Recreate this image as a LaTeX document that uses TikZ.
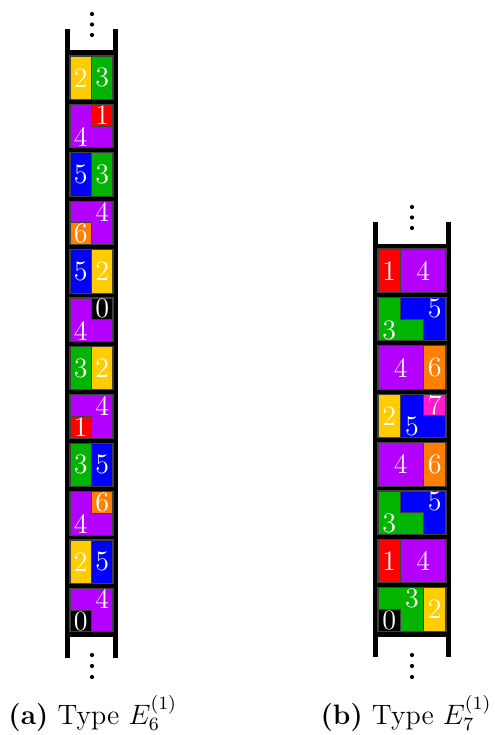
\documentclass[tikz,border=0pt]{standalone}
\usepackage{amsmath}
\usepackage{tikz}

\definecolor{pyellow}{HTML}{FFCC00}
\definecolor{pgreen}{HTML}{00B400}
\definecolor{pred}{HTML}{FF0000}
\definecolor{pviolet}{HTML}{B400FF}
\definecolor{pblue}{HTML}{0000FF}
\definecolor{porange}{HTML}{FF8000}
\definecolor{pmagenta}{HTML}{FF1CC8}
\definecolor{pblack}{HTML}{000000}

% left column: cell #1 from the top, two columns
\newcommand{\lpair}[5]{%
  \begin{scope}[shift={(70,{56+48.4*#1})}, xscale=21.5, yscale=21.75]
    \draw[piece=#2] (0,0) rectangle (1,2);
    \draw[piece=#4] (1,0) rectangle (2,2);
    \node[num] (a#1l) at (0.5,1) {#3};
    \node[num] (a#1r) at (1.5,1) {#5};
  \end{scope}}
\newcommand{\lside}[5]{%
  \begin{scope}[shift={(70,{56+48.4*#1})}, xscale=21.5, yscale=21.75]
    \draw[piece=#2] (0,0) -- (1,0) -- (1,1) -- (2,1) -- (2,2) -- (0,2) -- cycle;
    \draw[piece=#4] (1,0) rectangle (2,1);
    \node[num] (a#1l) at (0.5,1.5) {#3};
    \node[num] (a#1r) at (1.5,0.5) {#5};
  \end{scope}}
\newcommand{\ltop}[5]{%
  \begin{scope}[shift={(70,{56+48.4*#1})}, xscale=21.5, yscale=21.75]
    \draw[piece=#2] (0,0) -- (2,0) -- (2,2) -- (1,2) -- (1,1) -- (0,1) -- cycle;
    \draw[piece=#4] (0,1) rectangle (1,2);
    \node[num] (a#1r) at (1.5,0.5) {#3};
    \node[num] (a#1l) at (0.5,1.5) {#5};
  \end{scope}}

% right column: cell #1 from the top, three columns
\newcommand{\rpair}[6]{%
  \begin{scope}[shift={(378,{249+48.4*#1})}, xscale=22.67, yscale=21.75]
    \draw[piece=#3] (0,0) rectangle (#2,2);
    \draw[piece=#5] (#2,0) rectangle (3,2);
    \node[num] (b#1l) at ({#2/2},1) {#4};
    \node[num] (b#1r) at ({(#2+3)/2},1) {#6};
  \end{scope}}
\newcommand{\rstep}[1]{%
  \begin{scope}[shift={(378,{249+48.4*#1})}, xscale=22.67, yscale=21.75]
    \draw[piece=pgreen] (0,0) -- (1,0) -- (1,1) -- (2,1) -- (2,2) -- (0,2) -- cycle;
    \draw[piece=pblue] (1,0) -- (3,0) -- (3,2) -- (2,2) -- (2,1) -- (1,1) -- cycle;
    \node[num] (b#1l) at (0.5,1.5) {3};
    \node[num] (b#1r) at (2.5,0.5) {5};
  \end{scope}}
\newcommand{\rseven}[1]{%
  \begin{scope}[shift={(378,{249+48.4*#1})}, xscale=22.67, yscale=21.75]
    \draw[piece=pyellow] (0,0) rectangle (1,2);
    \draw[piece=pblue] (1,0) -- (2,0) -- (2,1) -- (3,1) -- (3,2) -- (1,2) -- cycle;
    \draw[piece=pmagenta] (2,0) rectangle (3,1);
    \node[num] (b#1l) at (0.5,1) {2};
    \node[num] (b#1m) at (1.5,1.5) {5};
    \node[num] (b#1r) at (2.5,0.5) {7};
  \end{scope}}
\newcommand{\rzero}[1]{%
  \begin{scope}[shift={(378,{249+48.4*#1})}, xscale=22.67, yscale=21.75]
    \draw[piece=pgreen] (0,0) -- (2,0) -- (2,2) -- (1,2) -- (1,1) -- (0,1) -- cycle;
    \draw[piece=pblack] (0,1) rectangle (1,2);
    \draw[piece=pyellow] (2,0) rectangle (3,2);
    \node[num] (b#1m) at (1.5,0.5) {3};
    \node[num] (b#1l) at (0.5,1.5) {0};
    \node[num] (b#1r) at (2.5,1) {2};
  \end{scope}}

\begin{document}
\begin{tikzpicture}[
  x=0.4274pt, y=-0.4274pt,
  piece/.style={fill=#1, draw=black!75, line width=0.45pt},
  num/.style={text=white, font=\large, inner sep=0pt},
  rail/.style={fill=black},
  vdot/.style={fill=black, circle, inner sep=0pt, minimum size=1.8pt},
  caption/.style={inner sep=0pt, font=\fontsize{12}{15}\selectfont}
]
\useasboundingbox (0,0) rectangle (494,735);

\fill[rail] (65,50) rectangle (118,637);
\fill[rail] (65,29) rectangle (70,658);
\fill[rail] (113,29) rectangle (118,658);
\fill[rail] (373,244) rectangle (451,637);
\fill[rail] (373,222) rectangle (378,657);
\fill[rail] (446,222) rectangle (451,657);

\lpair{0}{pyellow}{2}{pgreen}{3}
\lside{1}{pviolet}{4}{pred}{1}
\lpair{2}{pblue}{5}{pgreen}{3}
\ltop{3}{pviolet}{4}{porange}{6}
\lpair{4}{pblue}{5}{pyellow}{2}
\lside{5}{pviolet}{4}{pblack}{0}
\lpair{6}{pgreen}{3}{pyellow}{2}
\ltop{7}{pviolet}{4}{pred}{1}
\lpair{8}{pgreen}{3}{pblue}{5}
\lside{9}{pviolet}{4}{porange}{6}
\lpair{10}{pyellow}{2}{pblue}{5}
\ltop{11}{pviolet}{4}{pblack}{0}

\rpair{0}{1}{pred}{1}{pviolet}{4}
\rstep{1}
\rpair{2}{2}{pviolet}{4}{porange}{6}
\rseven{3}
\rpair{4}{2}{pviolet}{4}{porange}{6}
\rstep{5}
\rpair{6}{1}{pred}{1}{pviolet}{4}
\rzero{7}

\foreach \y [count=\i] in {14,24.5,35} {
  \node[vdot] (atop\i) at (92,\y) {};
  \node[vdot] (btop\i) at (412,\y+193) {};
}
\foreach \y [count=\i] in {655,666,677} {
  \node[vdot] (abot\i) at (92,\y) {};
  \node[vdot] (bbot\i) at (412,\y) {};
}

\node[caption, anchor=base west] (capa) at (8,724) {\textbf{(a)} Type $E_6^{(1)}$};
\node[caption, anchor=base east] (capb) at (492,724) {\textbf{(b)} Type $E_7^{(1)}$};
\end{tikzpicture}
\end{document}
